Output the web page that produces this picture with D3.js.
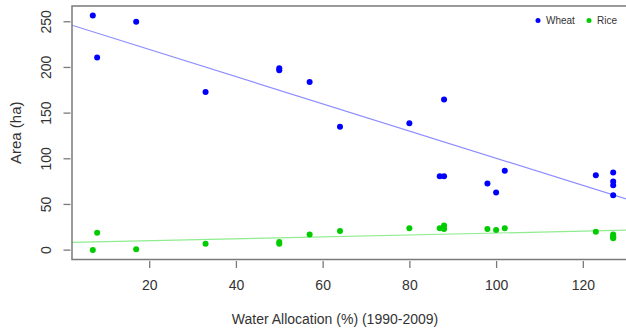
<!DOCTYPE html>
<html lang="en">
  <head>
    <meta charset="utf-8">
    <title>Area vs Water Allocation</title>
    <script type="text/javascript" src="https://d3js.org/d3.v7.min.js"></script>
    <style>
      body { margin: 0; background: #fff; }
      text { font-family: "Liberation Sans", Arial, sans-serif; fill: #333; }
    </style>
  </head>
  <body>
    <script type="text/javascript">
    var w = 626;
    var h = 330;

    // water allocation (%) per year, 1990-2009
    var allocation = [7, 8, 17, 33, 50, 50, 57, 64, 80, 87, 88, 88, 98, 100, 102, 123, 127, 127, 127, 127];
    var wheat = [257, 211, 250, 173, 197, 199, 184, 135, 139, 81, 81, 165, 73, 63, 87, 82, 85, 75, 71, 60];
    var rice = [0, 19, 1, 7, 9, 7, 17, 21, 24, 24, 27, 23, 23, 22, 24, 20, 17, 15, 14, 13];
    var xticks = [20, 40, 60, 80, 100, 120];
    var yticks = [0, 50, 100, 150, 200, 250];
    var seriesNames = ["Wheat", "Rice"];
    var pointColors = ["#0000ff", "#00cc00"];
    var lineColors = ["#8c8cff", "#8fec8f"];

    // plot box (right side runs past the window, like the cropped original)
    var boxL = 72, boxT = 6, boxR = 634, boxB = 259.5;

    // R style 4% padding on the data range
    var xext = d3.extent(allocation);
    var xpad = (xext[1] - xext[0]) * 0.04;
    var yext = d3.extent(wheat.concat(rice));
    var ypad = (yext[1] - yext[0]) * 0.04;
    var xscale = d3.scaleLinear().domain([xext[0] - xpad, xext[1] + xpad]).range([boxL, boxR]);
    var yscale = d3.scaleLinear().domain([yext[0] - ypad, yext[1] + ypad]).range([boxB, boxT]);

    var svg = d3.select("body").append("svg").attr("width", w).attr("height", h);

    svg.append("clipPath").attr("id", "plotclip")
      .append("rect")
      .attr("x", boxL).attr("y", boxT)
      .attr("width", boxR - boxL).attr("height", boxB - boxT);

    // least squares fit, like abline(lm(y ~ x))
    fit = function(xs, ys) {
      var mx = d3.mean(xs), my = d3.mean(ys);
      var sxy = d3.sum(xs, function(x, i) { return (x - mx) * (ys[i] - my); });
      var sxx = d3.sum(xs, function(x) { return (x - mx) * (x - mx); });
      var b = sxy / sxx;
      return { a: my - b * mx, b: b };
    }

    var series = [wheat, rice];
    series.forEach(function(ys, k) {
      var f = fit(allocation, ys);
      var dom = xscale.domain();
      svg.append("line")
        .attr("clip-path", "url(#plotclip)")
        .attr("x1", xscale(dom[0])).attr("y1", yscale(f.a + f.b * dom[0]))
        .attr("x2", xscale(dom[1])).attr("y2", yscale(f.a + f.b * dom[1]))
        .attr("stroke", lineColors[k])
        .attr("stroke-width", 1.2);
    });

    series.forEach(function(ys, k) {
      svg.append("g").selectAll("circle")
        .data(ys)
        .enter()
        .append("circle")
        .attr("cx", function(d, i) { return xscale(allocation[i]); })
        .attr("cy", function(d) { return yscale(d); })
        .attr("r", 3)
        .attr("fill", pointColors[k]);
    });

    // box
    svg.append("rect")
      .attr("x", boxL).attr("y", boxT)
      .attr("width", boxR - boxL).attr("height", boxB - boxT)
      .attr("fill", "none")
      .attr("stroke", "#7a7a7a")
      .attr("stroke-width", 1.5);

    var xAxis = d3.axisBottom(xscale).tickValues(xticks).tickSize(7).tickPadding(12);
    var gx = svg.append("g")
      .attr("transform", "translate(0," + (boxB + 1.5) + ")")
      .call(xAxis);
    gx.select(".domain").remove();
    gx.selectAll("line").attr("stroke", "#7a7a7a").attr("stroke-width", 1.3);
    gx.selectAll("text").attr("font-size", 14).attr("fill", "#333")
      .attr("font-family", "Liberation Sans, Arial, sans-serif");

    var yAxis = d3.axisLeft(yscale).tickValues(yticks).tickSize(7).tickPadding(0);
    var gy = svg.append("g")
      .attr("transform", "translate(" + (boxL - 1.5) + ",0)")
      .call(yAxis);
    gy.select(".domain").remove();
    gy.selectAll("line").attr("stroke", "#7a7a7a").attr("stroke-width", 1.3);
    // R draws the y tick labels turned on their side
    gy.selectAll(".tick").attr("transform", null);
    gy.selectAll(".tick line")
      .attr("y1", function(d) { return yscale(d); })
      .attr("y2", function(d) { return yscale(d); });
    gy.selectAll("text")
      .attr("font-size", 14).attr("fill", "#333")
      .attr("font-family", "Liberation Sans, Arial, sans-serif")
      .attr("x", null).attr("y", null).attr("dy", null)
      .attr("text-anchor", "middle")
      .attr("dominant-baseline", "central")
      .attr("transform", function(d) { return "translate(-25," + yscale(d) + ") rotate(-90)"; });

    svg.append("text")
      .attr("x", 335).attr("y", 324)
      .attr("text-anchor", "middle")
      .attr("font-size", 14)
      .text("Water Allocation (%) (1990-2009)");

    svg.append("text")
      .attr("transform", "translate(15," + ((boxT + boxB) / 2) + ") rotate(-90)")
      .attr("text-anchor", "middle")
      .attr("dominant-baseline", "central")
      .attr("font-size", 15)
      .text("Area (ha)");

    // legend
    var legendX = [538, 589];
    seriesNames.forEach(function(name, k) {
      svg.append("circle")
        .attr("cx", legendX[k]).attr("cy", 20.5).attr("r", 2.5)
        .attr("fill", pointColors[k]);
      svg.append("text")
        .attr("x", legendX[k] + 8).attr("y", 24)
        .attr("font-size", 10)
        .text(name);
    });
    </script>
  </body>
</html>
